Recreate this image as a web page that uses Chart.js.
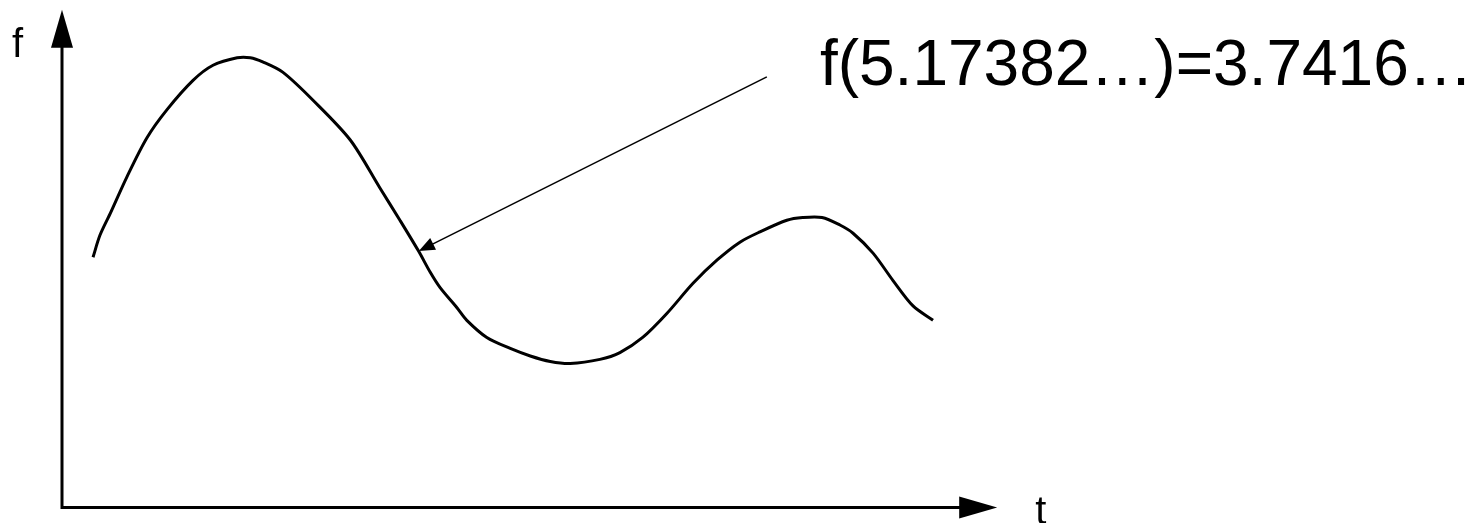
<!DOCTYPE html>
<html>
<head>
<meta charset="utf-8">
<script src="https://cdn.jsdelivr.net/npm/chart.js@4/dist/chart.umd.min.js"></script>
<style>
  html, body { margin: 0; padding: 0; background: #fff; }
  #wrap { position: relative; width: 1472px; height: 523px; }
</style>
</head>
<body>
<div id="wrap"><canvas id="grafico"></canvas></div>
<script>
// curve samples (t, f)
const tValues = [0.45, 0.55, 0.70, 0.94, 1.23, 1.52, 1.90, 2.19, 2.54, 2.73, 2.91, 3.20, 3.64, 4.18, 4.61, 4.90,
  5.17, 5.34, 5.48, 5.73, 5.87, 6.16, 6.50, 6.79, 7.08, 7.37, 7.80, 8.09, 8.42, 8.77, 9.15, 9.50, 9.83,
  10.12, 10.51, 10.74, 11.02, 11.28, 11.47, 11.76, 12.05, 12.34, 12.63];
const fValues = [3.65, 3.97, 4.29, 4.82, 5.39, 5.80, 6.23, 6.45, 6.56, 6.56, 6.50, 6.35, 5.94, 5.36, 4.66, 4.19,
  3.74, 3.43, 3.21, 2.91, 2.73, 2.48, 2.32, 2.21, 2.13, 2.10, 2.16, 2.26, 2.48, 2.83, 3.27, 3.61, 3.87,
  4.02, 4.19, 4.23, 4.23, 4.12, 4.00, 3.71, 3.31, 2.94, 2.73];

// marked point and its label
const pontoT = 5.17382;
const pontoF = 3.7416;
const rotuloPonto = "f(5.17382…)=3.7416…";
const rotuloPos = { t: 10.99, f: 6.16 };   // text baseline start
const caudaSeta = { t: 10.22, f: 6.28 };   // arrow tail

// axes
const eixoTMax = 13.56;
const eixoFMax = 7.26;
const rotuloEixoX = "t";
const rotuloEixoY = "f";

const dados = tValues.map((t, i) => ({ x: t, y: fValues[i] }));

function triangulo(ctx, tipX, tipY, ang, comp, meia) {
    const bx = tipX - Math.cos(ang) * comp;
    const by = tipY - Math.sin(ang) * comp;
    const nx = -Math.sin(ang) * meia;
    const ny = Math.cos(ang) * meia;
    ctx.beginPath();
    ctx.moveTo(tipX, tipY);
    ctx.lineTo(bx + nx, by + ny);
    ctx.lineTo(bx - nx, by - ny);
    ctx.closePath();
    ctx.fill();
}

// 🔵 axes with arrows + labels + annotation
const desenhoExtra = {
    id: "desenhoExtra",
    afterDatasetsDraw(chart) {
        const ctx = chart.ctx;
        const sx = chart.scales.x;
        const sy = chart.scales.y;
        const x0 = sx.getPixelForValue(0);
        const y0 = sy.getPixelForValue(0);
        const xTip = sx.getPixelForValue(eixoTMax);
        const yTip = sy.getPixelForValue(eixoFMax);
        const cab = 38, meia = 11;

        ctx.save();
        ctx.strokeStyle = "#000";
        ctx.fillStyle = "#000";
        ctx.lineWidth = 3;
        ctx.lineCap = "butt";
        ctx.beginPath();
        ctx.moveTo(x0, y0);
        ctx.lineTo(xTip - cab + 2, y0);
        ctx.moveTo(x0, y0 + 1.5);
        ctx.lineTo(x0, yTip + cab - 2);
        ctx.stroke();
        triangulo(ctx, xTip, y0, 0, cab, meia);
        triangulo(ctx, x0, yTip, -Math.PI / 2, cab, meia);

        ctx.font = "40px 'Liberation Sans', Arial, sans-serif";
        ctx.textBaseline = "alphabetic";
        ctx.textAlign = "left";
        ctx.fillText(rotuloEixoY, x0 - 50, yTip + 47);
        ctx.fillText(rotuloEixoX, xTip + 38, y0 + 16);

        // annotation arrow
        const px = sx.getPixelForValue(pontoT);
        const py = sy.getPixelForValue(pontoF);
        const cx = sx.getPixelForValue(caudaSeta.t);
        const cy = sy.getPixelForValue(caudaSeta.f);
        const ang = Math.atan2(py - cy, px - cx);
        ctx.lineWidth = 1.5;
        ctx.beginPath();
        ctx.moveTo(cx, cy);
        ctx.lineTo(px - Math.cos(ang) * 12, py - Math.sin(ang) * 12);
        ctx.stroke();
        triangulo(ctx, px, py, ang, 16, 6.5);

        ctx.font = "64px 'Liberation Sans', Arial, sans-serif";
        ctx.fillText(rotuloPonto, sx.getPixelForValue(rotuloPos.t), sy.getPixelForValue(rotuloPos.f));
        ctx.restore();
    }
};

const grafico = new Chart(document.getElementById("grafico").getContext("2d"), {
    type: "line",
    data: {
        datasets: [{
            label: "f(t)",
            data: dados,
            borderColor: "#000",
            borderWidth: 3,
            pointRadius: 0,
            tension: 0.3,
            fill: false
        }]
    },
    options: {
        responsive: true,
        maintainAspectRatio: false,
        animation: false,
        events: [],
        layout: { padding: { left: 62, right: 410, top: 7, bottom: 15.5 } },
        plugins: { legend: { display: false }, tooltip: { enabled: false } },
        scales: {
            x: { type: "linear", min: 0, max: 14.5, display: false },
            y: { type: "linear", min: 0, max: 7.3, display: false }
        }
    },
    plugins: [desenhoExtra]
});
</script>
</body>
</html>
